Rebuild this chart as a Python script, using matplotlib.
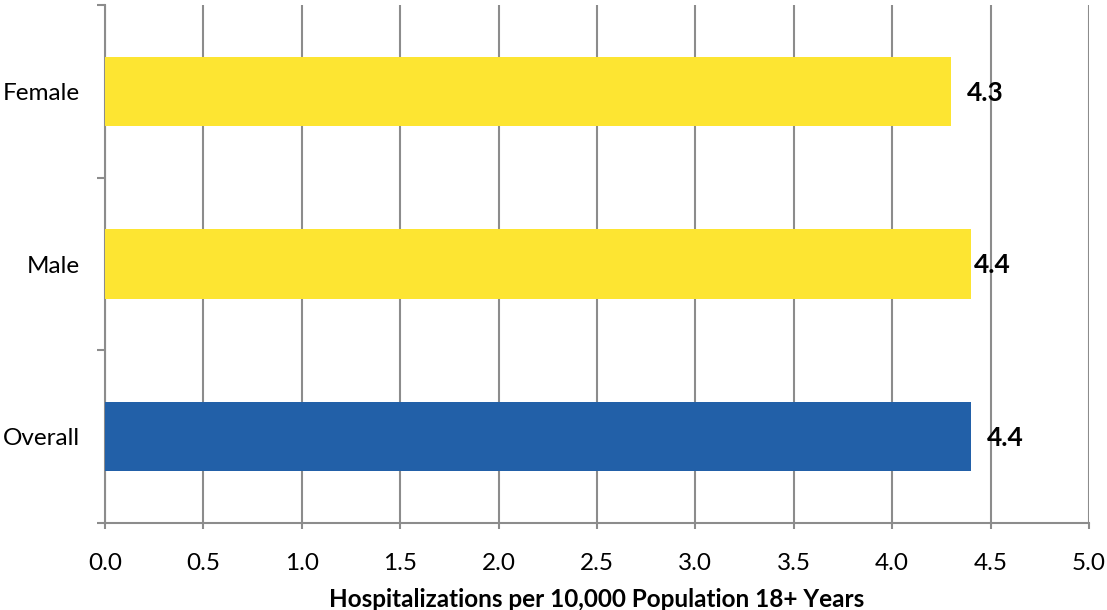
import matplotlib.pyplot as plt
import numpy as np

# data
categories = ['Overall', 'Male', 'Female']
values = [4.4, 4.4, 4.3]
bar_colors = ['#2260A8', '#FDE532', '#FDE532']
label_offsets = [16, 3, 16]   # px gap between bar end and value label
x_ticks = [0.0, 0.5, 1.0, 1.5, 2.0, 2.5, 3.0, 3.5, 4.0, 4.5, 5.0]
x_title = 'Hospitalizations per 10,000 Population 18+ Years'

plt.rcParams['font.family'] = ['Lato', 'DejaVu Sans']
grid_col = '#8C8C8C'

fig = plt.figure(figsize=(11.07, 6.10), dpi=100)
ax = fig.add_axes([0.0949, 0.1426, 0.8888, 0.8492])

y = np.arange(len(categories))
ax.barh(y, values, height=0.4, color=bar_colors, zorder=3)

# value labels
for yi, v, off in zip(y, values, label_offsets):
    ax.annotate('%.1f' % v, xy=(v, yi), xytext=(off * 0.72, -1), textcoords='offset points',
                ha='left', va='center', fontsize=19, fontweight='bold', zorder=4)

ax.set_xlim(0, 5)
ax.set_ylim(-0.5, len(categories) - 0.5)
ax.set_xticks(x_ticks)
ax.set_xticklabels(['%.1f' % t for t in x_ticks], fontsize=17.5)

# category boundaries as major ticks, names on minor ticks
ax.set_yticks(np.arange(-0.5, len(categories), 1.0))
ax.set_yticklabels([])
ax.set_yticks(y, minor=True)
ax.set_yticklabels(categories, minor=True, fontsize=17.5)
ax.tick_params(axis='y', which='major', length=6, width=1.5, color=grid_col, direction='out')
ax.tick_params(axis='y', which='minor', length=0, pad=18)
ax.tick_params(axis='x', length=4.5, width=1.5, color=grid_col, pad=17)

ax.grid(axis='x', color=grid_col, linewidth=1.5, zorder=0)
for s in ['top', 'right']:
    ax.spines[s].set_visible(False)
for s in ['left', 'bottom']:
    ax.spines[s].set_color(grid_col)
    ax.spines[s].set_linewidth(1.5)

ax.set_xlabel(x_title, fontsize=17.5, fontweight='bold', labelpad=10)

fig.savefig('out.png', dpi=100)
